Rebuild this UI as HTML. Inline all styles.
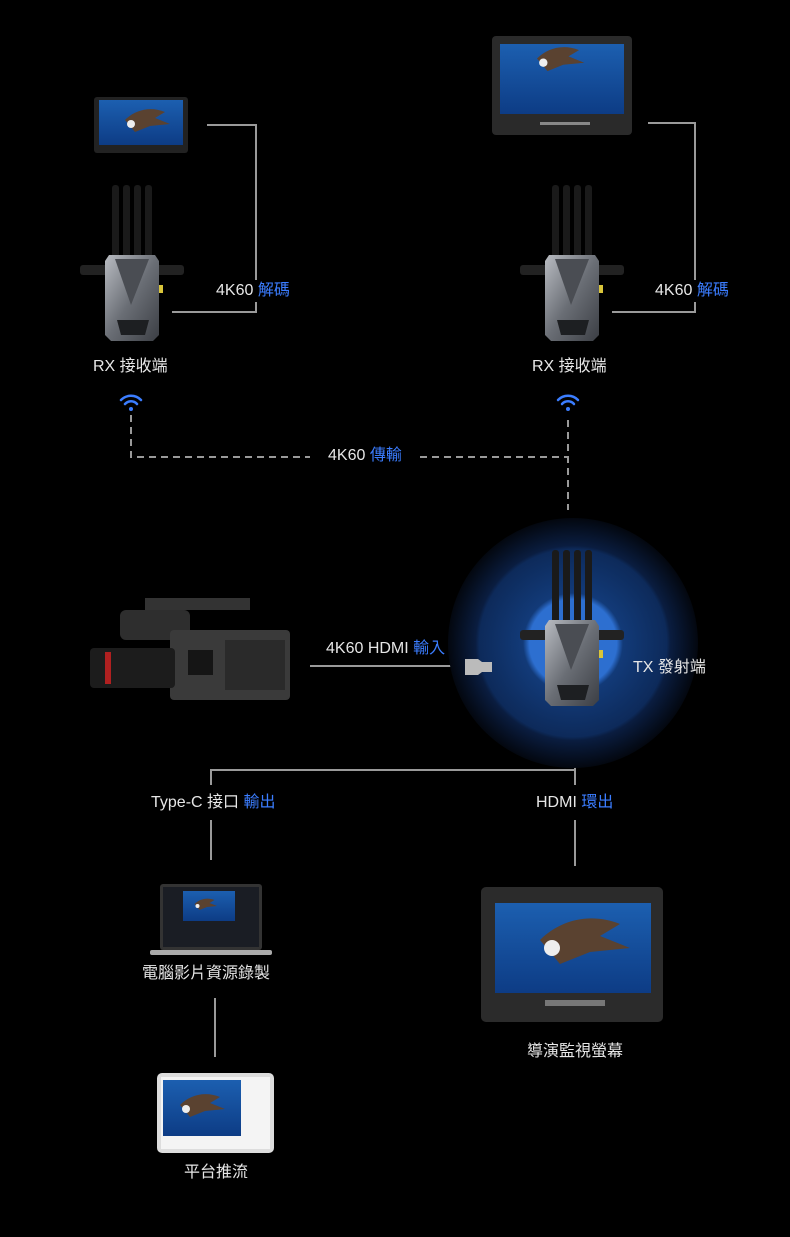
<!DOCTYPE html>
<html><head><meta charset="utf-8"><style>
html,body{margin:0;padding:0;background:#000;}
body{width:790px;height:1237px;overflow:hidden;position:relative;font-family:"Liberation Sans","Noto Sans CJK TC",sans-serif;}
.t{position:absolute;color:#e6e6e6;font-size:16px;white-space:nowrap;line-height:20px;}
.b{color:#3b7dff;}
</style></head><body>
<svg width="790" height="1237" style="position:absolute;left:0;top:0">
<defs>
<linearGradient id="bg" x1="0" y1="0" x2="1" y2="1"><stop offset="0" stop-color="#b9bcc2"/><stop offset="0.5" stop-color="#6a6e75"/><stop offset="1" stop-color="#3b3e44"/></linearGradient>
<linearGradient id="sea" x1="0" y1="0" x2="0" y2="1"><stop offset="0" stop-color="#1c5fb0"/><stop offset="1" stop-color="#0d3c85"/></linearGradient>
<radialGradient id="glow" cx="0.5" cy="0.5" r="0.5"><stop offset="0.35" stop-color="#2d6fd0"/><stop offset="0.4" stop-color="#123a78"/><stop offset="0.75" stop-color="#0d2a5a"/><stop offset="0.78" stop-color="#0a1d40"/><stop offset="1" stop-color="#03070f"/></radialGradient>
<g id="rx">
<rect x="5" y="0" width="7" height="75" rx="3" fill="#1a1a1a"/>
<rect x="16" y="0" width="7" height="75" rx="3" fill="#1a1a1a"/>
<rect x="27" y="0" width="7" height="75" rx="3" fill="#1a1a1a"/>
<rect x="38" y="0" width="7" height="75" rx="3" fill="#1a1a1a"/>
<rect x="-27" y="80" width="104" height="10" rx="3" fill="#222"/>
<path d="M2 70 H48 L52 76 V150 L46 156 H4 L-2 150 V76 Z" fill="url(#bg)"/>
<path d="M8 74 L24 120 L42 74 Z" fill="#4a4d53"/>
<path d="M10 135 H42 L38 150 H14 Z" fill="#1d1f22"/>
<rect x="52" y="100" width="4" height="8" fill="#d9c53a"/>
</g>
<g id="eagle">
<path d="M0 10 C10 0 25 -4 40 2 L30 8 L45 14 L25 16 L10 22 Z" fill="#5a4230"/>
<circle cx="6" cy="14" r="4" fill="#eee"/>
</g>
</defs>

<!-- top left monitor -->
<rect x="94" y="97" width="94" height="56" rx="3" fill="#222"/>
<rect x="99" y="100" width="84" height="45" fill="url(#sea)"/>
<use href="#eagle" x="125" y="110"/>
<!-- top right monitor -->
<rect x="492" y="36" width="140" height="99" rx="4" fill="#2a2a2a"/>
<rect x="500" y="44" width="124" height="70" fill="url(#sea)"/>
<use href="#eagle" x="540" y="60" transform="translate(-30,-15) scale(1.05)"/>
<rect x="540" y="122" width="50" height="3" fill="#888"/>

<use href="#rx" x="107" y="185"/>
<use href="#rx" x="547" y="185"/>

<g stroke="#9a9a9a" stroke-width="2" fill="none">
<path d="M207 125 H256 V280 M256 302 V312 H172"/>
<path d="M648 123 H695 V280 M695 302 V312 H612"/>
<path d="M310 666 H465"/>
<path d="M575 735 V770 M211 785 V770 H575 V785"/>
<path d="M211 820 V860 M575 820 V866"/>
<path d="M215 998 V1057"/>
</g>
<g stroke="#9a9a9a" stroke-width="2" fill="none" stroke-dasharray="7,5">
<path d="M131 415 V457 H310"/>
<path d="M420 457 H568 M568 420 V510"/>
</g>
<!-- wifi -->
<g fill="none" stroke="#3b7dff" stroke-width="2.5" stroke-linecap="round">
<path d="M121 400 a14 14 0 0 1 20 0 M125 404 a8 8 0 0 1 12 0"/>
<path d="M558 400 a14 14 0 0 1 20 0 M562 404 a8 8 0 0 1 12 0"/>
</g>
<circle cx="131" cy="409" r="2" fill="#3b7dff"/><circle cx="568" cy="409" r="2" fill="#3b7dff"/>

<!-- TX glow -->
<circle cx="573" cy="643" r="125" fill="url(#glow)"/>
<use href="#rx" x="547" y="550"/>
<path d="M465 659 H478 L482 662 H492 V672 H482 L478 675 H465 Z" fill="#bbb"/>

<!-- camera -->
<rect x="145" y="598" width="105" height="12" fill="#333"/>
<rect x="120" y="610" width="70" height="30" rx="6" fill="#2e2e2e"/>
<rect x="170" y="630" width="120" height="70" rx="4" fill="#3a3a3a"/>
<rect x="225" y="640" width="60" height="50" fill="#2a2a2a"/>
<rect x="90" y="648" width="85" height="40" rx="4" fill="#1c1c1c"/>
<rect x="105" y="652" width="6" height="32" fill="#b02020"/>
<rect x="188" y="650" width="25" height="25" fill="#151515"/>

<!-- laptop -->
<rect x="160" y="884" width="102" height="66" rx="3" fill="#333"/>
<rect x="163" y="887" width="96" height="60" fill="#1a1d24"/>
<rect x="183" y="891" width="52" height="30" fill="url(#sea)"/>
<use href="#eagle" x="195" y="898" transform="translate(97,450) scale(0.5)"/>
<rect x="150" y="950" width="122" height="5" rx="2" fill="#aaa"/>

<!-- tablet -->
<rect x="157" y="1073" width="117" height="80" rx="5" fill="#ddd"/>
<rect x="161" y="1077" width="109" height="72" fill="#f4f4f4"/>
<rect x="163" y="1080" width="78" height="56" fill="url(#sea)"/>
<use href="#eagle" x="180" y="1095"/>

<!-- big monitor -->
<rect x="481" y="887" width="182" height="135" rx="5" fill="#2b2b2b"/>
<rect x="495" y="903" width="156" height="90" fill="url(#sea)"/>
<use href="#eagle" x="540" y="920" transform="translate(-540,-920) scale(2)" />
<rect x="545" y="1000" width="60" height="6" fill="#777"/>
</svg>

<div class="t" style="left:216px;top:281px">4K60 <span class="b">解碼</span></div>
<div class="t" style="left:655px;top:281px">4K60 <span class="b">解碼</span></div>
<div class="t" style="left:93px;top:357px">RX 接收端</div>
<div class="t" style="left:532px;top:357px">RX 接收端</div>
<div class="t" style="left:328px;top:446px">4K60 <span class="b">傳輸</span></div>
<div class="t" style="left:326px;top:639px">4K60 HDMI <span class="b">輸入</span></div>
<div class="t" style="left:633px;top:658px">TX 發射端</div>
<div class="t" style="left:151px;top:793px">Type-C 接口 <span class="b">輸出</span></div>
<div class="t" style="left:536px;top:793px">HDMI <span class="b">環出</span></div>
<div class="t" style="left:142px;top:964px">電腦影片資源錄製</div>
<div class="t" style="left:527px;top:1042px">導演監視螢幕</div>
<div class="t" style="left:184px;top:1163px">平台推流</div>
</body></html>
